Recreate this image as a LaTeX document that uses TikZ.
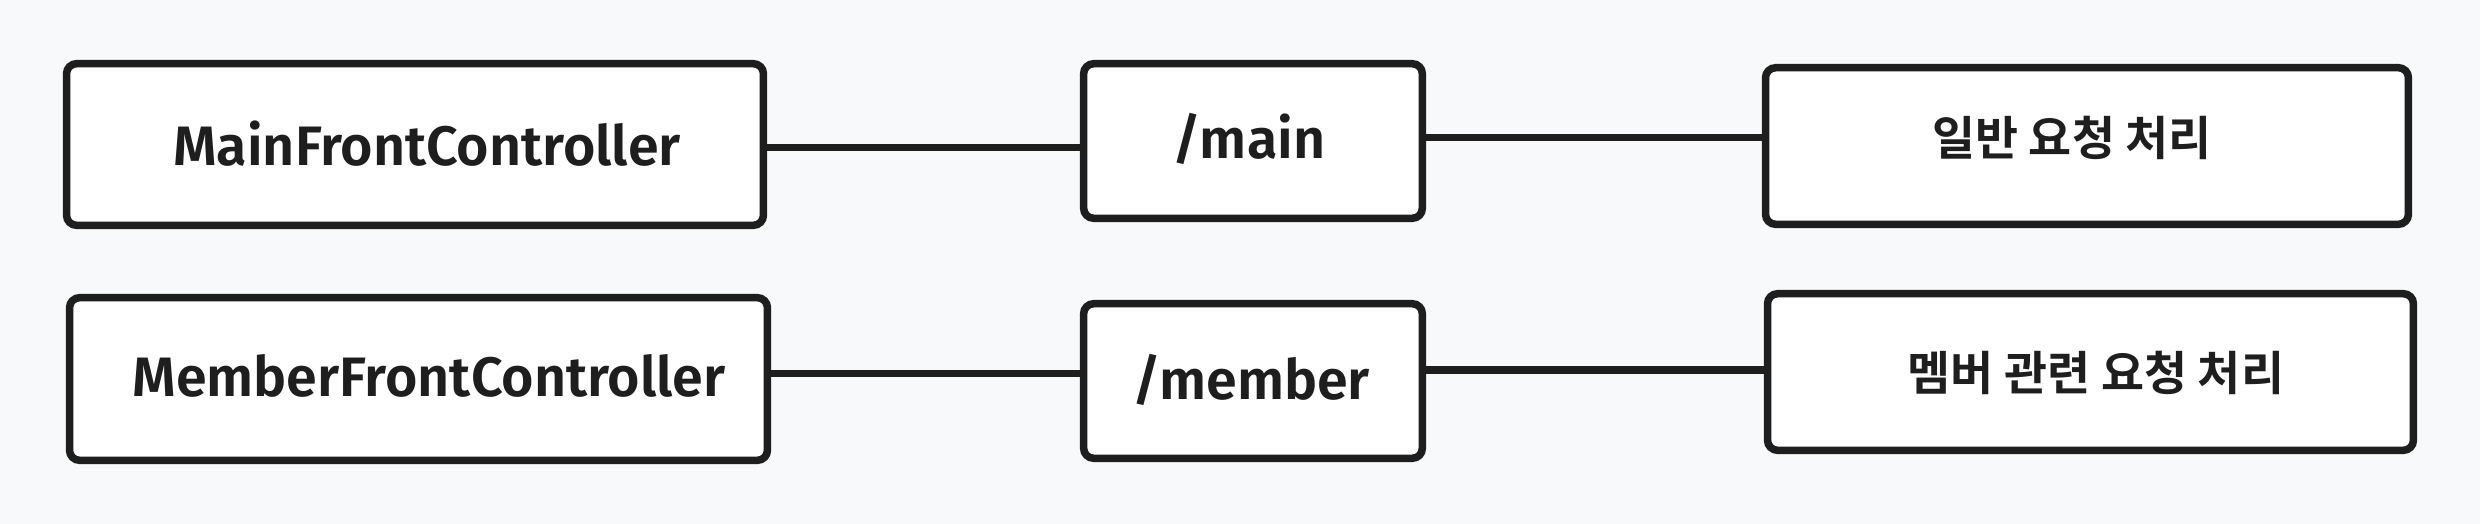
\documentclass[tikz,border=0pt]{standalone}
\usepackage{fontspec}
\setmainfont{Fira Sans}[BoldFont={Fira Sans SemiBold}]
\newfontfamily\kr{Noto Sans CJK KR}[BoldFont={Noto Sans CJK KR Bold}]
\definecolor{ink}{HTML}{1E1E1E}
\definecolor{bg}{HTML}{F8F9FA}
\begin{document}
\begin{tikzpicture}[x=0.01cm,y=-0.01cm,
  box/.style={draw=ink, line width=0.075cm, rounded corners=0.1cm, fill=white, inner sep=0pt, text=ink},
  lat/.style={font=\bfseries\fontsize{15.8}{18}\selectfont},
  kor/.style={font=\kr\bfseries\fontsize{13.3}{16}\selectfont},
  conn/.style={draw=ink, line width=0.07cm}]
\fill[bg] (0,0) rectangle (2480,524);
\useasboundingbox (0,0) rectangle (2480,524);
\node[box, minimum width=6.965cm, minimum height=1.615cm] (b1) at (415,144.5) {};
\node[box, minimum width=3.385cm, minimum height=1.545cm] (b2) at (1253,141) {};
\node[box, minimum width=6.425cm, minimum height=1.565cm] (b3) at (2087,146) {};
\node[box, minimum width=6.975cm, minimum height=1.625cm] (b4) at (418.5,379) {};
\node[box, minimum width=3.385cm, minimum height=1.545cm] (b5) at (1253,381) {};
\node[box, minimum width=6.455cm, minimum height=1.565cm] (b6) at (2090.5,372) {};
\node[lat, text=ink] (t1) at (427,144) {MainFrontController};
\node[lat, text=ink] (t2) at (1249,139) {/main};
\node[kor, text=ink] (t3) at (2072,138) {일반 요청 처리};
\node[lat, text=ink] (t4) at (429,376) {MemberFrontController};
\node[lat, text=ink] (t5) at (1251,380) {/member};
\node[kor, text=ink] (t6) at (2096,373) {멤버 관련 요청 처리};
\draw[conn] ([yshift=-0.025cm]b1.east) -- ([yshift=-0.025cm]b1.east -| b2.west);
\draw[conn] ([yshift=0.04cm]b2.east) -- ([yshift=0.04cm]b2.east -| b3.west);
\draw[conn] ([yshift=0.06cm]b4.east) -- ([yshift=0.06cm]b4.east -| b5.west);
\draw[conn] ([yshift=0.11cm]b5.east) -- ([yshift=0.11cm]b5.east -| b6.west);
\end{tikzpicture}
\end{document}
